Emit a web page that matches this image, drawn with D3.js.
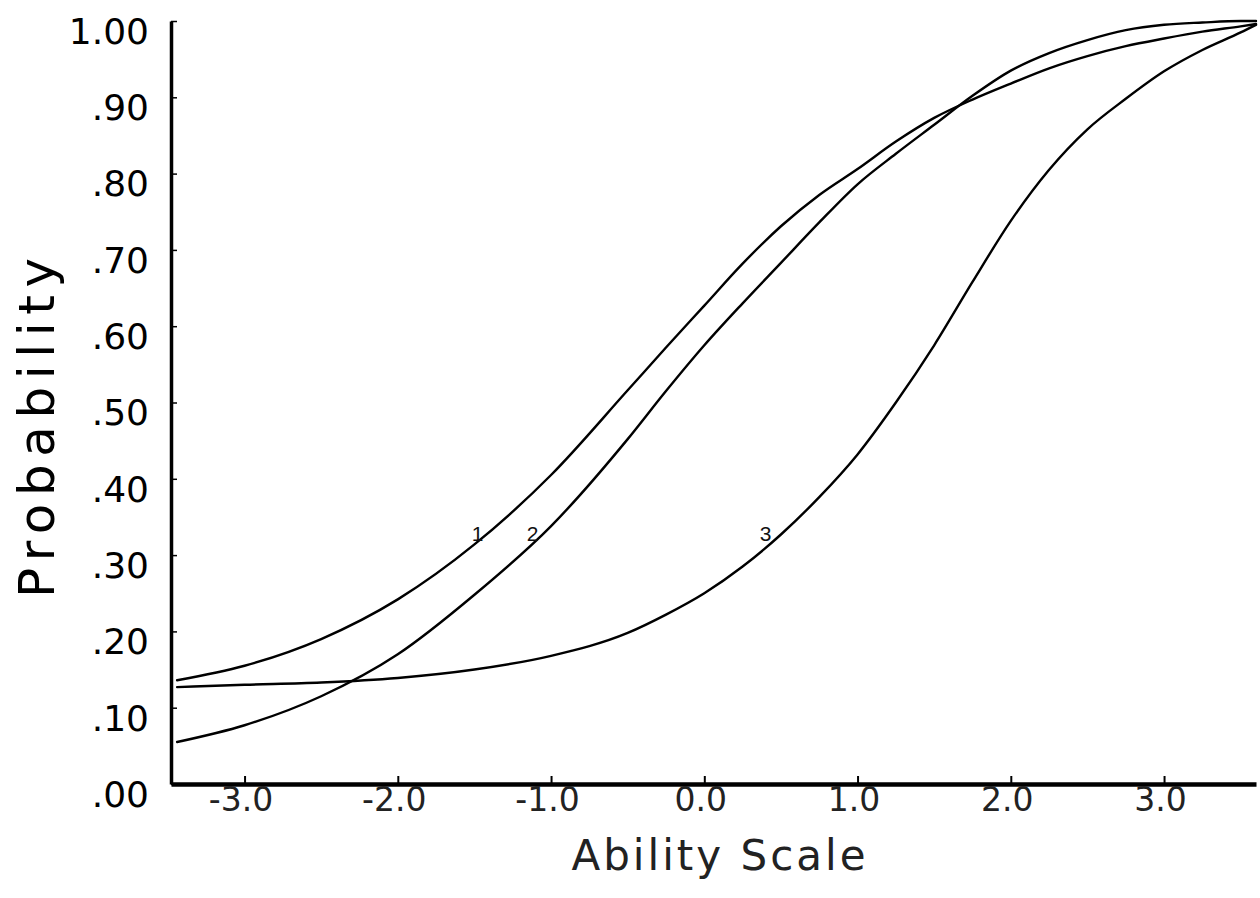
<!DOCTYPE html>
<html>
<head>
<meta charset="utf-8">
<script src="https://cdn.jsdelivr.net/npm/d3@7"></script>
<style>
  html, body { margin: 0; padding: 0; background: #fff; }
  svg { display: block; }
</style>
</head>
<body>
<svg id="chart" width="1260" height="898"></svg>
<script>
// ---- data ----
const theta = [-3.44, -3.0, -2.5, -2.0, -1.5, -1.0, -0.5, -0.25, 0.0, 0.25, 0.5, 0.75, 1.0, 1.25, 1.5, 1.75, 2.0, 2.25, 2.5, 2.75, 3.0, 3.25, 3.5, 3.6];
const item1 = [0.136, 0.155, 0.190, 0.242, 0.314, 0.405, 0.516, 0.572, 0.627, 0.682, 0.731, 0.772, 0.806, 0.842, 0.873, 0.897, 0.918, 0.938, 0.954, 0.967, 0.977, 0.986, 0.993, 0.996];
const item2 = [0.055, 0.077, 0.115, 0.170, 0.248, 0.338, 0.452, 0.515, 0.575, 0.630, 0.683, 0.736, 0.786, 0.826, 0.864, 0.902, 0.935, 0.958, 0.975, 0.988, 0.995, 0.998, 1.000, 1.000];
const item3 = [0.127, 0.130, 0.133, 0.139, 0.150, 0.168, 0.198, 0.222, 0.250, 0.285, 0.327, 0.376, 0.432, 0.500, 0.575, 0.658, 0.738, 0.805, 0.858, 0.898, 0.934, 0.962, 0.985, 0.995];
const seriesNames = ["1", "2", "3"];
const labelTheta = [-1.48, -1.12, 0.40];
const labelProb = [0.33, 0.33, 0.33];
const xTicks = [-3, -2, -1, 0, 1, 2, 3];
const yTicks = [0, 0.1, 0.2, 0.3, 0.4, 0.5, 0.6, 0.7, 0.8, 0.9, 1.0];
const xTitle = "Ability Scale";
const yTitle = "Probability";

// ---- scales ----
const svg = d3.select("#chart");
const x = d3.scaleLinear().domain([-3.48, 3.6]).range([171, 1256]);
const y = d3.scaleLinear().domain([0, 1]).range([784, 21]);

// ---- curves ----
const series = [item1, item2, item3];
const line = d3.line()
  .x((d, i) => x(theta[i]))
  .y(d => y(d))
  .curve(d3.curveMonotoneX);

svg.append("g").selectAll("path")
  .data(series)
  .join("path")
  .attr("d", d => line(d))
  .attr("fill", "none")
  .attr("stroke", "#000")
  .attr("stroke-width", 2.4)
  .attr("stroke-linecap", "round");

// curve labels
svg.append("g").selectAll("text")
  .data(seriesNames)
  .join("text")
  .attr("x", (d, i) => x(labelTheta[i]))
  .attr("y", (d, i) => y(labelProb[i]))
  .attr("dy", "0.42em")
  .attr("text-anchor", "middle")
  .attr("font-family", "Liberation Sans, Arial, sans-serif")
  .attr("font-size", 21)
  .attr("fill", "#111")
  .text(d => d);

// ---- axes ----
const yFmt = d => d === 1 ? "1.00" : d3.format(".2f")(d).replace(/^0/, "");
const yAxis = d3.axisLeft(y)
  .tickValues(yTicks)
  .tickFormat(yFmt)
  .tickSizeInner(-6)
  .tickSizeOuter(0)
  .tickPadding(22);

const gy = svg.append("g")
  .attr("transform", `translate(${x.range()[0]},0)`)
  .call(yAxis);
gy.select(".domain").attr("stroke", "#000").attr("stroke-width", 3.5);
gy.selectAll(".tick line").attr("stroke", "#000").attr("stroke-width", 1.5);
gy.selectAll(".tick text")
  .attr("font-family", "DejaVu Sans, sans-serif")
  .attr("font-size", 36)
  .attr("fill", "#000")
  .attr("dy", "0.62em");

const xFmt = d => d3.format(".1f")(d).replace("\u2212", "-");
const xAxis = d3.axisBottom(x)
  .tickValues(xTicks)
  .tickFormat(xFmt)
  .tickSizeInner(-8)
  .tickSizeOuter(0)
  .tickPadding(4);

const gx = svg.append("g")
  .attr("transform", `translate(0,${y(0)})`)
  .call(xAxis);
gx.select(".domain").attr("stroke", "#000").attr("stroke-width", 4.5);
gx.selectAll(".tick line").attr("stroke", "#000").attr("stroke-width", 2);
gx.selectAll(".tick text")
  .attr("font-family", "DejaVu Sans, sans-serif")
  .attr("font-size", 33)
  .attr("fill", "#222")
  .attr("dx", "-4");

// ---- titles ----
svg.append("text")
  .attr("x", 720)
  .attr("y", 870)
  .attr("text-anchor", "middle")
  .attr("font-family", "DejaVu Sans, sans-serif")
  .attr("font-size", 42)
  .attr("letter-spacing", 3)
  .attr("fill", "#222")
  .text(xTitle);

svg.append("text")
  .attr("transform", "translate(54,428) rotate(-90)")
  .attr("text-anchor", "middle")
  .attr("font-family", "DejaVu Sans, sans-serif")
  .attr("font-size", 50)
  .attr("textLength", 340)
  .attr("lengthAdjust", "spacing")
  .attr("fill", "#000")
  .text(yTitle);
</script>
</body>
</html>
